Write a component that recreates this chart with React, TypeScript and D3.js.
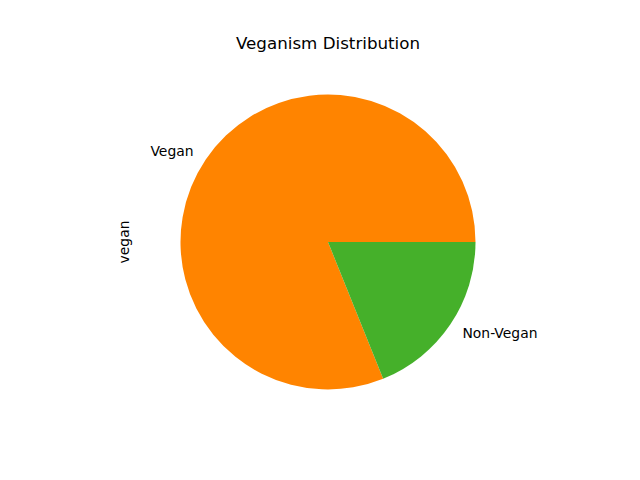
import { useEffect, useRef } from "react";
import * as d3 from "d3";

const categories = ["Vegan", "Non-Vegan"];
const shares = [81.1, 18.9];
const colors = ["#ff8400", "#45b02a"];

const width = 640;
const height = 480;

export default function App() {
  const svgRef = useRef<SVGSVGElement>(null);

  useEffect(() => {
    if (!svgRef.current) return;
    const svg = d3.select(svgRef.current);
    svg.selectAll("*").remove();

    const cx = 328;
    const cy = 242;
    const r = 147.5;

    svg
      .append("rect")
      .attr("width", width)
      .attr("height", height)
      .attr("fill", "#fff");

    const data = categories.map((c, i) => ({ label: c, value: shares[i], color: colors[i] }));

    // matplotlib style: start at 3 o'clock, counterclockwise
    const pie = d3
      .pie<{ label: string; value: number; color: string }>()
      .sort(null)
      .value((d) => d.value)
      .startAngle(Math.PI / 2)
      .endAngle(Math.PI / 2 - 2 * Math.PI);

    const arc = d3
      .arc<d3.PieArcDatum<{ label: string; value: number; color: string }>>()
      .innerRadius(0)
      .outerRadius(r);

    const g = svg.append("g").attr("transform", `translate(${cx},${cy})`);
    const arcs = pie(data);

    g.selectAll("path")
      .data(arcs)
      .join("path")
      .attr("d", arc)
      .attr("fill", (d) => d.data.color);

    g.selectAll("text")
      .data(arcs)
      .join("text")
      .each(function (d) {
        const mid = (d.startAngle + d.endAngle) / 2;
        const x = 1.1 * r * Math.sin(mid);
        const y = -1.1 * r * Math.cos(mid);
        d3.select(this)
          .attr("x", x)
          .attr("y", y)
          .attr("text-anchor", x < 0 ? "end" : "start")
          .attr("dy", "0.35em");
      })
      .attr("font-family", "DejaVu Sans, sans-serif")
      .attr("font-size", 13.9)
      .attr("fill", "#000")
      .text((d) => d.data.label);

    svg
      .append("text")
      .attr("x", cx)
      .attr("y", 49)
      .attr("text-anchor", "middle")
      .attr("font-family", "DejaVu Sans, sans-serif")
      .attr("font-size", 16.7)
      .attr("fill", "#000")
      .text("Veganism Distribution");

    svg
      .append("text")
      .attr("transform", `translate(129,${cy}) rotate(-90)`)
      .attr("text-anchor", "middle")
      .attr("font-family", "DejaVu Sans, sans-serif")
      .attr("font-size", 13.9)
      .attr("fill", "#000")
      .text("vegan");
  }, []);

  return (
    <svg
      ref={svgRef}
      width={width}
      height={height}
      style={{ position: "absolute", left: 0, top: 0 }}
    />
  );
}
